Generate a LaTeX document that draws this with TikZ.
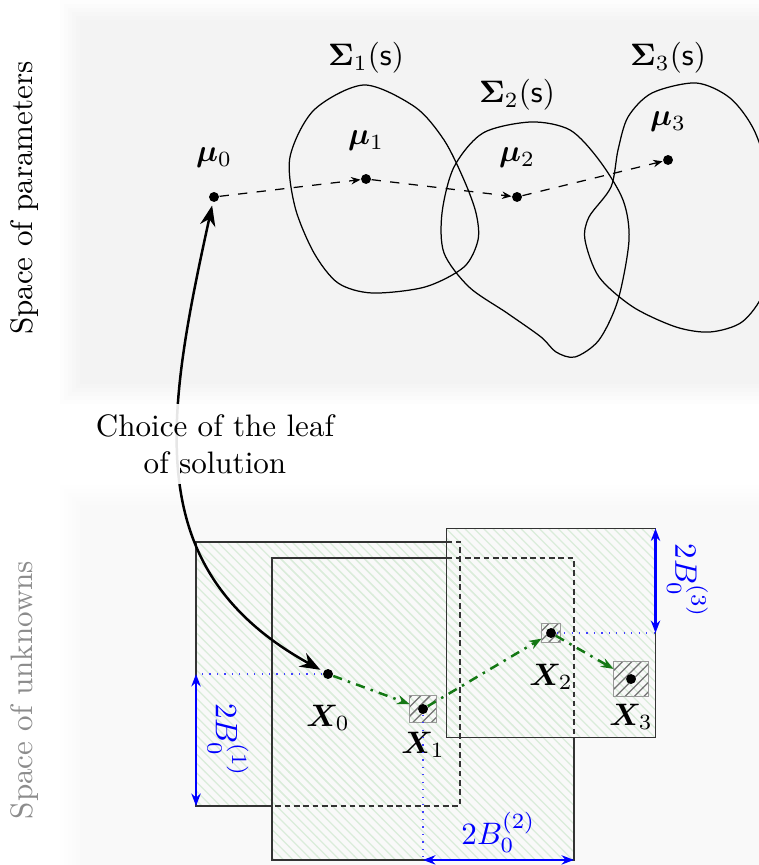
\documentclass[tikz,border=0pt]{standalone}
\usepackage{amsmath,bm}
\usetikzlibrary{arrows.meta,patterns,positioning}
\definecolor{hatchgreen}{RGB}{218,236,218}
\definecolor{pathgreen}{RGB}{20,120,20}

\begin{document}
\begin{tikzpicture}[
    x=0.322pt, y=-0.322pt,
    >=Stealth,
    dot/.style={circle, fill, inner sep=0pt, minimum size=3.2pt},
    ball/.style={rectangle, inner sep=0pt, outer sep=0pt, pattern=north west lines, pattern color=hatchgreen},
    tinyball/.style={rectangle, inner sep=0pt, outer sep=0pt, draw=black!40, pattern=north east lines, pattern color=black!55},
    boxline/.style={draw=black!80},
    hiddenline/.style={draw=black!80, dash pattern=on 1.8pt off 1.2pt},
    stepline/.style={dashed, -{Stealth[length=3pt,width=2.4pt]}},
    newton/.style={pathgreen, thick, dash dot, -{Stealth[length=4pt,width=3pt]}},
    dim/.style={blue, thick, {Stealth[length=4pt,width=3pt]}-{Stealth[length=4pt,width=3pt]}},
    guide/.style={blue!75, dotted},
    blob/.style={draw}
]
\useasboundingbox (0,0) rectangle (758,865);
\fill[white] (0,0) rectangle (758,865);

% the two spaces, with soft edges
\foreach \i in {0,...,5} {
  \fill[black, opacity=0.009] (60+4*\i,0+4*\i) rectangle (780,404-4*\i);
  \fill[black, opacity=0.005] (60+4*\i,485+4*\i) rectangle (780,880);
}
\node[rotate=90] (params) at (25,198) {Space of parameters};
\node[rotate=90, text=black!45] (unknowns) at (25,690) {Space of unknowns};

% balls around the iterates
\coordinate (c0) at (328,674);
\coordinate (c1) at (423,709);
\coordinate (c2) at (551,633);
\coordinate (c3) at (631,679);
\node[ball, minimum size=85pt] (ballA) at (c0) {};
\node[ball, minimum size=97.2pt] (ballB) at (c1) {};
\node[ball, minimum size=67.3pt] (ballC) at (c2) {};

\draw[boxline] (ballA.north west -| ballC.west) -- (ballA.north west) -- (ballA.south west) -- (ballA.south west -| ballB.west);
\draw[hiddenline] (ballA.north west -| ballC.west) -- (ballA.north east) -- (ballA.south east) -- (ballA.south west -| ballB.west);
\draw[boxline] (ballB.north west -| ballC.west) -- (ballB.north west) -- (ballB.south west) -- (ballB.south east) -- (ballB.east |- ballC.south);
\draw[hiddenline] (ballB.north west -| ballC.west) -- (ballB.north east) -- (ballB.east |- ballC.south);
\draw[boxline] (ballC.north west) rectangle (ballC.south east);

\node[tinyball, minimum size=8.7pt] (sq1) at (c1) {};
\node[tinyball, minimum size=6.1pt] (sq2) at (c2) {};
\node[tinyball, minimum size=11.3pt] (sq3) at (c3) {};

\node[dot] (X0) at (c0) {};
\node[dot] (X1) at (c1) {};
\node[dot] (X2) at (c2) {};
\node[dot] (X3) at (c3) {};
\node at (328,718) {$\bm{X}_0$};
\node at (423,745) {$\bm{X}_1$};
\node at (551,677) {$\bm{X}_2$};
\node at (631,717) {$\bm{X}_3$};

\draw[guide] (X0) -- (ballA.west);
\draw[guide] (X1) -- (X1 |- ballB.south);
\draw[guide] (X2) -- (ballC.east);

\draw[newton] (X0) -- (sq1);
\draw[newton] (X1) -- (sq2);
\draw[newton] (X2) -- (sq3);

\draw[dim] (ballA.west) -- (ballA.south west) node[midway, anchor=south, rotate=-90] {$2B_0^{(1)}$};
\draw[dim] (X1 |- ballB.south) -- (ballB.south east) node[midway, above, inner sep=2pt] {$2B_0^{(2)}$};
\draw[dim] (ballC.east) -- (ballC.north east) node[midway, anchor=south, rotate=-90] {$2B_0^{(3)}$};

% leaves in the parameter space
\draw[blob] plot[smooth cycle] coordinates {(364,85) (415,107) (444,140) (464,180) (476,213) (478,240) (464,267) (425,287) (372,293) (338,283) (314,253) (295,207) (290,157) (314,110)};
\draw[blob] plot[smooth cycle] coordinates {(531,122) (570,130) (599,160) (623,200) (629,240) (618,300) (599,340) (575,357) (556,352) (541,337) (507,313) (469,287) (444,253) (442,213) (454,167) (483,133)};
\draw[blob] plot[smooth cycle] coordinates {(696,83) (730,98) (754,130) (770,180) (775,240) (764,292) (742,322) (710,332) (676,327) (633,307) (599,277) (585,240) (589,217) (611,187) (618,150) (628,117) (652,93)};

\node at (366,58) {$\bm{\Sigma}_1(\mathsf{s})$};
\node at (517,95) {$\bm{\Sigma}_2(\mathsf{s})$};
\node at (668,58) {$\bm{\Sigma}_3(\mathsf{s})$};

\node[dot] (mu0) at (214,197) {};
\node[dot] (mu1) at (366,179) {};
\node[dot] (mu2) at (517,197) {};
\node[dot] (mu3) at (668,160) {};
\node at (214,158) {$\bm{\mu}_0$};
\node at (366,141) {$\bm{\mu}_1$};
\node at (517,158) {$\bm{\mu}_2$};
\node at (668,122) {$\bm{\mu}_3$};

\draw[stepline] (mu0) -- (mu1);
\draw[stepline] (mu1) -- (mu2);
\draw[stepline] (mu2) -- (mu3);

% choice of the leaf
\draw[thick, <->, shorten <=1pt, shorten >=1pt] (X0) .. controls (140,570) and (165,420) .. (mu0);
\node[fill=white, fill opacity=0.9, text opacity=1, align=center] (leaf) at (215,444) {Choice of the leaf\\of solution};
\end{tikzpicture}
\end{document}
